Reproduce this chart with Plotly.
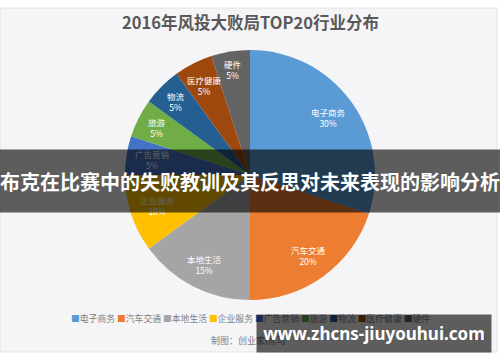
import math
import plotly.graph_objects as go

title_text = "2016年风投大败局TOP20行业分布"
categories = ["电子商务", "汽车交通", "本地生活", "企业服务", "广告营销", "旅游", "物流", "医疗健康", "硬件"]
shares = [30, 20, 15, 10, 5, 5, 5, 5, 5]
colors = ["#5B9BD5", "#ED7D31", "#A5A5A5", "#FFC000", "#4472C4", "#70AD47", "#255E91", "#9E480E", "#636363"]
overlay_text = "布克在比赛中的失败教训及其反思对未来表现的影响分析"
credit_text = "制图：创业家i黑马"
credit_right = "CVCA"
watermark_text = "www.zhcns-jiuyouhui.com"

W, H = 500, 362
FONT = "Noto Sans CJK SC"
CX, CY, R = 250, 175, 125  # pie centre / radius in pixels
LABEL_SIZE = 8.5

fig = go.Figure()
fig.add_trace(go.Pie(
    labels=categories,
    values=shares,
    sort=False,
    direction="clockwise",
    rotation=0,
    marker=dict(colors=colors, line=dict(width=0)),
    textinfo="none",
    domain=dict(x=[(CX - R) / W, (CX + R) / W], y=[1 - (CY + R) / H, 1 - (CY - R) / H]),
    hoverinfo="skip",
    showlegend=False,
))

# data labels placed "inside end" of each slice, derived from the values
annotations = []
total = sum(shares)
cum = 0
for cat, v in zip(categories, shares):
    mid = (cum + v / 2) / total * 2 * math.pi
    cum += v
    sx, sy = math.sin(mid), math.cos(mid)  # clockwise from 12 o'clock, y up
    hw = len(cat) * LABEL_SIZE / 2 + 1
    hh = LABEL_SIZE + 1.5
    target = R - 7
    lo, hi = 0.0, R
    for _ in range(40):
        r = (lo + hi) / 2
        d = math.hypot(r * abs(sx) + hw, r * abs(sy) + hh)
        if d > target:
            hi = r
        else:
            lo = r
    px = CX + r * sx
    py = CY - r * sy
    annotations.append(dict(
        text=f"{cat}<br>{round(v / total * 100)}%", x=px / W, y=1 - py / H,
        xref="paper", yref="paper", xanchor="center", yanchor="middle", showarrow=False,
        font=dict(family=FONT, size=LABEL_SIZE, color="#ffffff"),
    ))

legend_parts = []
for c, col in zip(categories, colors):
    legend_parts.append(f"<span style='color:{col}'>■</span>{c}")
legend_html = " ".join(legend_parts)

annotations += [
    dict(text=f"<b>{title_text}</b>", x=0.5, y=1 - 22 / H, xref="paper", yref="paper",
         xanchor="center", yanchor="middle",
         showarrow=False, font=dict(family=FONT, size=16.5, color="#595959")),
    dict(text=legend_html, x=0.5, y=1 - 318 / H, xref="paper", yref="paper",
         xanchor="center", yanchor="middle",
         showarrow=False, font=dict(family=FONT, size=8.8, color="#808080")),
    dict(text=credit_text, x=209 / W, y=1 - 340 / H, xref="paper", yref="paper",
         xanchor="left", yanchor="middle",
         showarrow=False, font=dict(family=FONT, size=9, color="#808080")),
    dict(text=credit_right, x=457 / W, y=1 - 335 / H, xref="paper", yref="paper",
         xanchor="left", yanchor="middle",
         showarrow=False, font=dict(family=FONT, size=11, color="#b0b0b0")),
    # overlay band
    dict(text=f"<b>{overlay_text}</b>", x=0.5, y=1 - 181 / H, xref="paper", yref="paper",
         xanchor="center", yanchor="middle",
         showarrow=False, width=W, height=62, borderpad=0, bgcolor="rgba(0,0,0,0.62)",
         font=dict(family=FONT, size=20, color="#ffffff")),
    # watermark box
    dict(text=f"<b>{watermark_text}</b>", x=(257 + 491) / 2 / W, y=1 - 333.5 / H, xref="paper", yref="paper",
         xanchor="center", yanchor="middle",
         showarrow=False, width=234, height=37, borderpad=0, bgcolor="rgba(0,0,0,0.62)",
         font=dict(family="Noto Sans", size=17, color="#ffffff")),
]

fig.update_layout(
    width=W, height=H,
    margin=dict(l=0, r=0, t=0, b=0),
    paper_bgcolor="#ffffff",
    plot_bgcolor="#ffffff",
    shapes=[dict(type="rect", xref="paper", yref="paper", x0=0, x1=497 / W, y0=1 - 352 / H, y1=1 - 8 / H,
                 fillcolor="#f5f5f7", line=dict(color="#e2e2e2", width=1), layer="below")],
    annotations=annotations,
)

fig.write_html("out.html")
